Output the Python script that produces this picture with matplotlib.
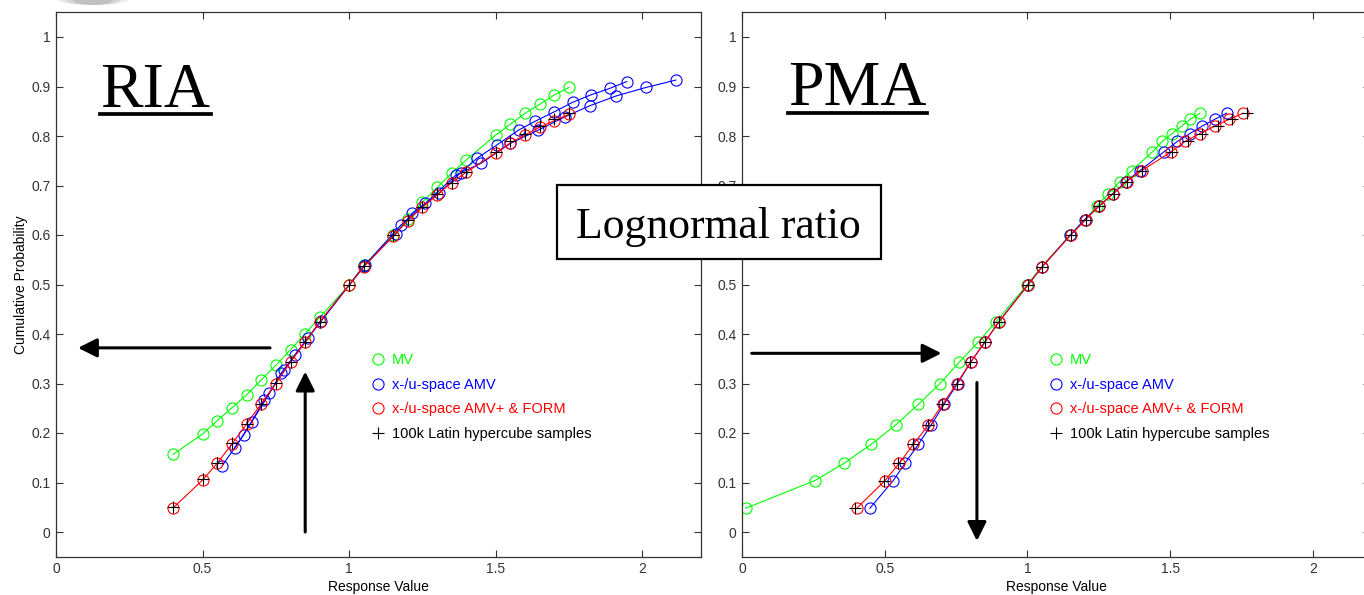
import matplotlib
matplotlib.use("Agg")
import matplotlib.pyplot as plt
from matplotlib.lines import Line2D
from matplotlib.patches import Rectangle, Ellipse
from matplotlib.ticker import FuncFormatter

plt.rcParams['font.family'] = ['Liberation Sans', 'DejaVu Sans']

# --- RIA: fixed response levels, probability from each method ---
response_levels = [0.40, 0.50, 0.55, 0.60, 0.65, 0.70, 0.75, 0.80, 0.85, 0.90, 1.00, 1.05,
                   1.15, 1.20, 1.25, 1.30, 1.35, 1.40, 1.50, 1.55, 1.60, 1.65, 1.70, 1.75]
ria_mv_prob = [0.157, 0.198, 0.225, 0.251, 0.277, 0.307, 0.337, 0.368, 0.401, 0.434, 0.499, 0.539,
               0.600, 0.632, 0.667, 0.696, 0.725, 0.752, 0.802, 0.824, 0.846, 0.864, 0.883, 0.898]
ria_form_prob = [0.049, 0.105, 0.139, 0.178, 0.218, 0.259, 0.300, 0.344, 0.383, 0.425, 0.499, 0.536,
                 0.598, 0.629, 0.656, 0.681, 0.706, 0.727, 0.766, 0.786, 0.802, 0.818, 0.831, 0.844]
ria_lhs_prob = [0.050, 0.107, 0.140, 0.179, 0.218, 0.259, 0.301, 0.344, 0.384, 0.425, 0.500, 0.537,
                0.600, 0.630, 0.657, 0.682, 0.706, 0.728, 0.768, 0.789, 0.805, 0.820, 0.834, 0.846]

# AMV in x-space and u-space (both drawn blue)
ria_amvx_resp = [0.567, 0.640, 0.711, 0.779, 0.858, 1.055, 1.176, 1.260, 1.364, 1.450, 1.550,
                 1.645, 1.737, 1.820, 1.911, 2.012, 2.114]
ria_amvx_prob = [0.134, 0.196, 0.267, 0.327, 0.391, 0.540, 0.620, 0.664, 0.721, 0.745, 0.785,
                 0.812, 0.839, 0.861, 0.881, 0.898, 0.913]
ria_amvu_resp = [0.609, 0.668, 0.728, 0.768, 0.815, 0.904, 1.050, 1.160, 1.215, 1.306, 1.380,
                 1.436, 1.504, 1.578, 1.635, 1.700, 1.762, 1.824, 1.888, 1.947]
ria_amvu_prob = [0.169, 0.223, 0.280, 0.321, 0.358, 0.427, 0.537, 0.603, 0.644, 0.684, 0.726,
                 0.755, 0.782, 0.812, 0.830, 0.849, 0.868, 0.883, 0.896, 0.910]

# --- PMA: fixed probability levels, response from each method ---
pma_prob_levels = [0.048, 0.104, 0.139, 0.177, 0.216, 0.258, 0.300, 0.343, 0.384, 0.425, 0.500, 0.536,
                   0.600, 0.631, 0.658, 0.683, 0.708, 0.730, 0.768, 0.789, 0.805, 0.820, 0.834, 0.846]
pma_mv_resp = [0.013, 0.256, 0.358, 0.452, 0.538, 0.618, 0.694, 0.761, 0.828, 0.890, 1.000, 1.050,
               1.150, 1.204, 1.242, 1.283, 1.324, 1.365, 1.438, 1.472, 1.507, 1.540, 1.571, 1.604]
pma_amv_resp = [0.448, 0.530, 0.571, 0.618, 0.662, 0.708, 0.755, 0.801, 0.851, 0.900, 1.003, 1.052,
                1.150, 1.200, 1.250, 1.298, 1.345, 1.394, 1.478, 1.525, 1.569, 1.612, 1.657, 1.698]
pma_form_resp = [0.402, 0.501, 0.551, 0.600, 0.653, 0.703, 0.752, 0.801, 0.851, 0.901, 1.003, 1.052,
                 1.152, 1.204, 1.250, 1.300, 1.347, 1.400, 1.503, 1.552, 1.604, 1.657, 1.707, 1.756]
pma_lhs_resp = [0.396, 0.497, 0.548, 0.598, 0.650, 0.700, 0.752, 0.800, 0.851, 0.901, 1.003, 1.052,
                1.152, 1.204, 1.252, 1.302, 1.350, 1.400, 1.507, 1.561, 1.610, 1.668, 1.717, 1.768]

legend_labels = ['MV', 'x-/u-space AMV', 'x-/u-space AMV+ & FORM', '100k Latin hypercube samples']
legend_colors = ['#00ff00', '#0000ff', '#ff0000', 'black']

GREEN, BLUE, RED = '#00ff00', '#0000ff', '#ff0000'
EDGE = '#333333'
circ = dict(marker='o', ms=8, mfc='none', mew=0.8, lw=0.8)
plus = dict(marker='+', ms=8.5, mew=0.8, ls='none', color='black')

fig = plt.figure(figsize=(13.64, 5.95), dpi=100)
ax1 = fig.add_axes([56 / 1364, 38.25 / 595, 645 / 1364, 544.5 / 595])
ax2 = fig.add_axes([742 / 1364, 38.25 / 595, 628 / 1364, 544.5 / 595])


def style_axes(ax):
    ax.set_xlim(0, 2.2)
    ax.set_ylim(-0.05, 1.05)
    ax.set_xticks([0, 0.5, 1, 1.5, 2])
    ax.set_yticks([i / 10 for i in range(11)])
    ax.xaxis.set_major_formatter(FuncFormatter(lambda v, p: f'{v:g}'))
    ax.yaxis.set_major_formatter(FuncFormatter(lambda v, p: f'{v:g}'))
    ax.tick_params(direction='in', length=5, width=0.8, colors=EDGE, labelsize=10,
                   top=True, right=True, pad=4)
    for s in ax.spines.values():
        s.set_color(EDGE)
        s.set_linewidth(0.9)
    ax.set_xlabel('Response Value', fontsize=10, labelpad=3)


def add_legend(ax, x_anchor):
    handles = [Line2D([], [], ls='none', marker='o', ms=8, mfc='none', mew=0.8, color=c)
               for c in legend_colors[:3]]
    handles.append(Line2D([], [], ls='none', marker='+', ms=8.5, mew=0.8, color='black'))
    ax.legend(handles, legend_labels, loc='upper left', bbox_to_anchor=(x_anchor, 0.374),
              frameon=False, fontsize=10.5, labelcolor=legend_colors, handlelength=1.0,
              handletextpad=0.44, labelspacing=0.73, borderpad=0, borderaxespad=0)


def arrow(ax, start, tip):
    ax.annotate('', xy=tip, xytext=start,
                arrowprops=dict(arrowstyle='-|>,head_length=1.0,head_width=0.5',
                                mutation_scale=11.5, lw=2.2, color='black',
                                shrinkA=0, shrinkB=0))


# RIA panel
ax1.plot(response_levels, ria_mv_prob, color=GREEN, **circ)
ax1.plot(ria_amvx_resp, ria_amvx_prob, color=BLUE, **circ)
ax1.plot(ria_amvu_resp, ria_amvu_prob, color=BLUE, **circ)
ax1.plot(response_levels, ria_form_prob, color=RED, **circ)
ax1.plot(response_levels, ria_lhs_prob, **plus)
style_axes(ax1)
ax1.set_ylabel('Cumulative Probability', fontsize=10, labelpad=2)
add_legend(ax1, 0.488)
arrow(ax1, (0.730, 0.372), (0.075, 0.372))
arrow(ax1, (0.850, 0.0), (0.850, 0.324))

# PMA panel
ax2.plot(pma_mv_resp, pma_prob_levels, color=GREEN, **circ)
ax2.plot(pma_amv_resp, pma_prob_levels, color=BLUE, **circ)
ax2.plot(pma_form_resp, pma_prob_levels, color=RED, **circ)
ax2.plot(pma_lhs_resp, pma_prob_levels, **plus)
style_axes(ax2)
add_legend(ax2, 0.489)
arrow(ax2, (0.034, 0.361), (0.699, 0.361))
arrow(ax2, (0.823, 0.302), (0.823, -0.018))

# Big underlined panel titles
serif = ['Liberation Serif', 'DejaVu Serif']
fig.text(100 / 1364, 1 - 107 / 595, 'RIA', family=serif, fontsize=46, va='baseline', ha='left')
fig.text(788 / 1364, 1 - 105 / 595, 'PMA', family=serif, fontsize=46, va='baseline', ha='left')
fig.add_artist(Line2D([100 / 1364, 211 / 1364], [1 - 114 / 595] * 2, color='black', lw=2.7,
                      transform=fig.transFigure))
fig.add_artist(Line2D([788 / 1364, 927 / 1364], [1 - 112.5 / 595] * 2, color='black', lw=2.7,
                      transform=fig.transFigure))

# soft grey smudge along the top edge, left side
for w, a in [(70, 0.15), (55, 0.2), (40, 0.25)]:
    fig.add_artist(Ellipse((93 / 1364, 1.0), w / 1364, 10 / 595, transform=fig.transFigure,
                           facecolor='#808080', edgecolor='none', alpha=a))

# Boxed annotation across both panels
fig.add_artist(Rectangle((557 / 1364, 1 - 259 / 595), 324 / 1364, 74 / 595, transform=fig.transFigure,
                         facecolor='white', edgecolor='black', lw=1.6, zorder=5))
fig.text(718 / 1364, 1 - 238 / 595, 'Lognormal ratio', family=serif, fontsize=31.5,
         ha='center', va='baseline', zorder=6)

fig.savefig('out.png', dpi=100)
